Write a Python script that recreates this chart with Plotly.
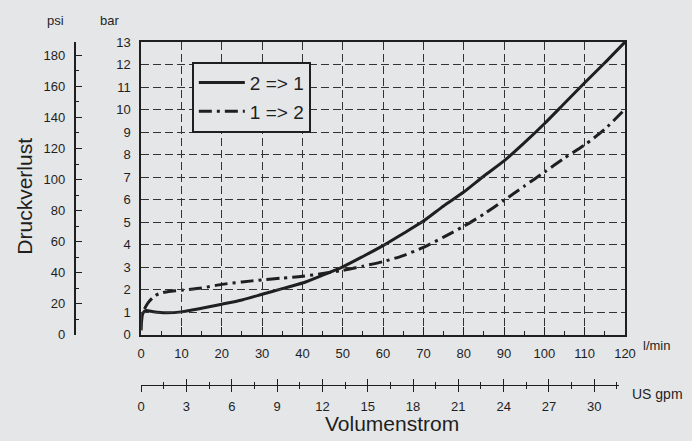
import plotly.graph_objects as go

# ---- data ----
flow_21 = [0, 0.1, 0.4, 1.2, 3, 6, 10, 15, 20, 25, 30, 35, 40, 45, 50, 55, 60,
           65, 70, 75, 80, 85, 90, 95, 100, 105, 110, 115, 120]
dp_21 = [0.2, 0.6, 0.95, 1.08, 1.03, 0.98, 1.02, 1.18, 1.36, 1.55, 1.8, 2.05, 2.3,
         2.65, 3.02, 3.48, 3.96, 4.5, 5.05, 5.72, 6.34, 7.05, 7.72, 8.52, 9.37,
         10.28, 11.19, 12.08, 13.0]

flow_12 = [0.8, 1.7, 3.4, 5.4, 7.5, 10, 15, 20, 25, 30, 35, 40, 45, 50, 55, 60,
           65, 70, 75, 80, 85, 90, 95, 100, 105, 110, 115, 120]
dp_12 = [1.15, 1.42, 1.74, 1.88, 1.94, 1.98, 2.08, 2.24, 2.35, 2.44, 2.52, 2.6,
         2.72, 2.86, 3.05, 3.25, 3.52, 3.88, 4.34, 4.82, 5.36, 5.97, 6.6, 7.22,
         7.85, 8.43, 9.13, 10.02]

series_names = ["2 => 1", "1 => 2"]
bar_range = [0, 13]
psi_per_bar = 14.5038
lmin_range = [0, 120]
gpm_range = [0, 31.64]

# ---- layout helpers ----
W, H = 692, 441
ML, MR, MT, MB = 10, 67, 42, 10
PW, PH = W - ML - MR, H - MT - MB


def px_x(x):
    return (x - ML) / PW


def px_y(y):
    return (H - MB - y) / PH


BG = "#e5e6e8"
INK = "#1f1f1f"
FONT = "Liberation Sans, Arial, sans-serif"

fig = go.Figure()
fig.add_trace(go.Scatter(x=flow_21, y=dp_21, name=series_names[0], mode="lines",
                         line=dict(color=INK, width=3, shape="spline", smoothing=0.6),
                         legendgroup="a"))
fig.add_trace(go.Scatter(x=flow_12, y=dp_12, name=series_names[1], mode="lines",
                         line=dict(color=INK, width=3, shape="spline", smoothing=0.6,
                                   dash="13px,5px,3px,5px"),
                         legendgroup="b"))
# empty traces so auxiliary axes get drawn
fig.add_trace(go.Scatter(x=[None], y=[None], xaxis="x", yaxis="y2", showlegend=False, hoverinfo="skip"))
fig.add_trace(go.Scatter(x=[None], y=[None], xaxis="x2", yaxis="y", showlegend=False, hoverinfo="skip"))
fig.add_trace(go.Scatter(x=[None], y=[None], xaxis="x3", yaxis="y", showlegend=False, hoverinfo="skip"))

xdom = [px_x(138), 1.0]
ydom = [px_y(341), 1.0]
gpm_dom = [px_x(138), px_x(619)]

tickfont = dict(family=FONT, size=13, color=INK)

fig.update_layout(
    width=W, height=H,
    margin=dict(l=ML, r=MR, t=MT, b=MB),
    paper_bgcolor=BG, plot_bgcolor="rgba(0,0,0,0)",
    font=dict(family=FONT, color=INK),
    showlegend=True,
    legend=dict(x=px_x(189), y=px_y(62), xanchor="left", yanchor="top",
                bgcolor=BG, bordercolor=INK, borderwidth=2,
                font=dict(family=FONT, size=19, color=INK),
                itemwidth=46, tracegroupgap=1),
    xaxis=dict(domain=xdom, range=lmin_range, dtick=10, tick0=0,
               showline=True, linecolor=INK, linewidth=1.5, mirror=True,
               ticks="inside", ticklen=8, tickcolor=INK, tickwidth=1.2,
               minor=dict(dtick=5, ticks="inside", ticklen=4, tickcolor=INK, showgrid=False),
               showgrid=True, gridcolor="#333333", gridwidth=1, griddash="8px,4px",
               zeroline=False, tickfont=tickfont, ticklabelstandoff=6,
               anchor="y"),
    yaxis=dict(domain=ydom, range=bar_range, dtick=1, tick0=0,
               showline=True, linecolor=INK, linewidth=1.5, mirror=True,
               ticks="", showgrid=True, gridcolor="#333333", gridwidth=1,
               griddash="8px,4px", zeroline=False, tickfont=tickfont,
               ticklabelstandoff=6, anchor="x"),
    yaxis2=dict(domain=ydom, overlaying="y", anchor="free", position=px_x(71), side="left",
                range=[bar_range[0] * psi_per_bar, bar_range[1] * psi_per_bar],
                dtick=20, tick0=0, showline=True, linecolor=INK, linewidth=1.5,
                ticks="inside", ticklen=7, tickcolor=INK, tickwidth=1.2,
                minor=dict(dtick=10, ticks="inside", ticklen=4, tickcolor=INK, showgrid=False),
                showgrid=False, zeroline=False, tickfont=tickfont, ticklabelstandoff=6),
    xaxis2=dict(domain=gpm_dom, anchor="free", position=px_y(392), range=gpm_range,
                dtick=3, tick0=0, showline=True, linecolor=INK, linewidth=1.2,
                ticks="outside", ticklen=6, tickcolor=INK, tickwidth=1.2,
                minor=dict(dtick=1.5, ticks="outside", ticklen=3, tickcolor=INK, showgrid=False),
                showgrid=False, zeroline=False, tickfont=tickfont, ticklabelstandoff=3),
    xaxis3=dict(domain=gpm_dom, anchor="free", position=px_y(392), range=gpm_range,
                dtick=3, tick0=0, showline=False, showticklabels=False,
                ticks="inside", ticklen=6, tickcolor=INK, tickwidth=1.2,
                minor=dict(dtick=1.5, ticks="inside", ticklen=3, tickcolor=INK, showgrid=False),
                showgrid=False, zeroline=False, overlaying="x2"),
)

ann_font = dict(family=FONT, size=13, color=INK)
annotations = [
    dict(text="psi", x=px_x(52), y=px_y(20), xanchor="center", yanchor="middle", font=ann_font),
    dict(text="bar", x=px_x(106), y=px_y(20), xanchor="center", yanchor="middle", font=ann_font),
    dict(text="l/min", x=px_x(641), y=px_y(352), xanchor="left", yanchor="middle", font=ann_font),
    dict(text="US gpm", x=px_x(630), y=px_y(401), xanchor="left", yanchor="middle",
         font=dict(family=FONT, size=14, color=INK)),
    dict(text="Volumenstrom", x=px_x(390), y=px_y(432), xanchor="center", yanchor="middle",
         font=dict(family=FONT, size=21, color=INK)),
    dict(text="Druckverlust", x=px_x(21), y=px_y(199), xanchor="center", yanchor="middle",
         textangle=-90, font=dict(family=FONT, size=21, color=INK)),
]
for a in annotations:
    fig.add_annotation(xref="paper", yref="paper", showarrow=False, **a)

page_fix = (
    "document.documentElement.style.margin='0';"
    "document.documentElement.style.overflow='hidden';"
    "document.body.style.margin='0';"
    "document.body.style.overflow='hidden';"
    "var gd=document.querySelector('.plotly-graph-div');"
    "gd.style.position='fixed';gd.style.top='0px';gd.style.left='0px';"
)
fig.write_html("out.html", post_script=page_fix, config={"displayModeBar": False})
